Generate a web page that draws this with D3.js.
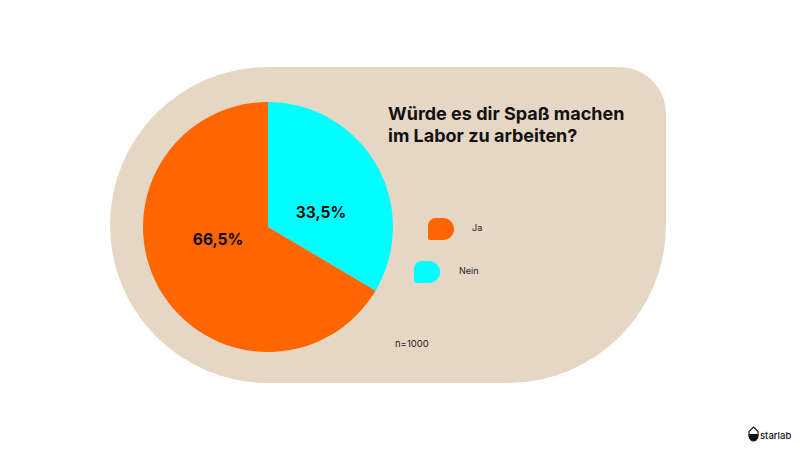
<!DOCTYPE html>
<html><head><meta charset="utf-8">
<script src="https://cdn.jsdelivr.net/npm/d3@7"></script>
<style>html,body{margin:0;padding:0;background:#fff;overflow:hidden}svg{display:block}text{font-family:Inter,"Open Sans",sans-serif}</style>
</head><body><svg id="c" width="800" height="450"></svg>
<script>
const categories = ["Nein", "Ja"];
const values = [33.5, 66.5];
const valueLabels = ["33,5%", "66,5%"];
const colors = ["#00ffff", "#ff6600"];
const legendOrder = ["Ja", "Nein"];
const titleLines = ["Würde es dir Spaß machen", "im Labor zu arbeiten?"];
const note = "n=1000";
const brand = "starlab";

const svg = d3.select("#c");
function blob(x, y, w, h, tl, tr, br, bl) {
  const p = d3.path();
  p.moveTo(x + tl, y);
  p.lineTo(x + w - tr, y);
  p.arcTo(x + w, y, x + w, y + tr, tr);
  p.lineTo(x + w, y + h - br);
  p.arcTo(x + w, y + h, x + w - br, y + h, br);
  p.lineTo(x + bl, y + h);
  p.arcTo(x, y + h, x, y + h - bl, bl);
  p.lineTo(x, y + tl);
  p.arcTo(x, y, x + tl, y, tl);
  p.closePath();
  return p.toString();
}
svg.append("path").attr("d", blob(110, 67, 556, 316, 158, 47, 158, 158)).attr("fill", "#e6d6c4");

const cx = 268, cy = 227, R = 125;
const pie = d3.pie().sort(null).value(d => d)(values);
const arc = d3.arc().innerRadius(0).outerRadius(R);
const labelArc = d3.arc().innerRadius(R * 0.46).outerRadius(R * 0.46);
const color = d3.scaleOrdinal(categories, colors);
const g = svg.append("g").attr("transform", `translate(${cx},${cy})`);
g.selectAll("path").data(pie).join("path").attr("d", arc).attr("fill", (d, i) => color(categories[i]));
const labelOffset = [[3, 13.5], [0, -15.5]];
g.selectAll("text").data(pie).join("text")
  .attr("x", (d, i) => labelArc.centroid(d)[0] + labelOffset[i][0])
  .attr("y", (d, i) => labelArc.centroid(d)[1] + labelOffset[i][1])
  .attr("text-anchor", "middle").attr("dominant-baseline", "central")
  .attr("font-size", 15.5).attr("font-weight", 700).attr("fill", "#0a0a0a")
  .text((d, i) => valueLabels[i]);

svg.selectAll("text.title").data(titleLines).join("text").attr("class", "title")
  .attr("x", 388).attr("y", (d, i) => 120 + i * 21.5)
  .attr("font-size", 18).attr("font-weight", 700).attr("fill", "#111")
  .text(d => d);

const legendPos = { Ja: [428, 218, 472], Nein: [414, 261, 459] };
legendOrder.forEach(k => {
  const [x, y, tx] = legendPos[k];
  svg.append("path").attr("d", blob(x, y, 26, 22, 8, 11, 11, 2)).attr("fill", color(k));
  svg.append("text").attr("x", tx).attr("y", y + 13).attr("font-size", 9).attr("fill", "#222").text(k);
});
svg.append("text").attr("x", 395).attr("y", 347).attr("font-size", 9.5).attr("fill", "#222").text(note);

const logo = svg.append("g").attr("transform", "translate(753.5,434.5)");
logo.append("path").attr("d", "M0,-7.5 L4.5,-3 Q5.5,6 0,6.5 Q-5.5,6 -4.5,-3 Z").attr("fill", "#fff").attr("stroke", "#111").attr("stroke-width", 1.1);
logo.append("path").attr("d", "M-4.7,-0.5 H4.7 Q5,6 0,6.5 Q-5,6 -4.7,-0.5 Z").attr("fill", "#111");
svg.append("text").attr("x", 760).attr("y", 439).attr("font-size", 9.5).attr("font-weight", 500).attr("fill", "#111").text(brand);
</script></body></html>
